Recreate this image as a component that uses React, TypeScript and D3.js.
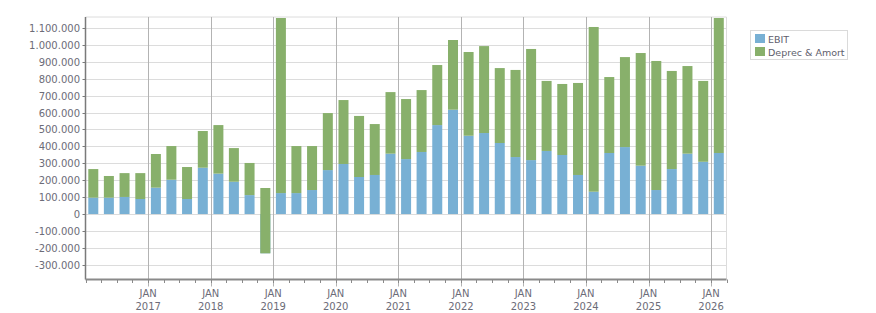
import * as d3 from "d3";

// quarterly periods, Q1 2016 .. Q1 2026
const quarters = [
  "2016-01", "2016-04", "2016-07", "2016-10",
  "2017-01", "2017-04", "2017-07", "2017-10",
  "2018-01", "2018-04", "2018-07", "2018-10",
  "2019-01", "2019-04", "2019-07", "2019-10",
  "2020-01", "2020-04", "2020-07", "2020-10",
  "2021-01", "2021-04", "2021-07", "2021-10",
  "2022-01", "2022-04", "2022-07", "2022-10",
  "2023-01", "2023-04", "2023-07", "2023-10",
  "2024-01", "2024-04", "2024-07", "2024-10",
  "2025-01", "2025-04", "2025-07", "2025-10",
  "2026-01",
];

const ebit = [
  97000, 97000, 101000, 89000,
  156000, 203000, 89000, 274000,
  239000, 191000, 112000, -232000,
  124000, 124000, 142000, 260000,
  296000, 219000, 231000, 357000,
  325000, 367000, 526000, 617000,
  463000, 479000, 420000, 337000,
  319000, 373000, 349000, 231000,
  132000, 361000, 396000, 286000,
  142000, 266000, 357000, 309000,
  361000,
];

const deprecAmort = [
  169000, 128000, 141000, 153000,
  199000, 199000, 189000, 217000,
  287000, 199000, 190000, 386000,
  1035000, 278000, 260000, 337000,
  378000, 361000, 301000, 364000,
  355000, 366000, 355000, 412000,
  495000, 514000, 443000, 515000,
  657000, 414000, 420000, 544000,
  974000, 449000, 532000, 666000,
  763000, 580000, 518000, 478000,
  798000,
];

const seriesNames = ["EBIT", "Deprec & Amort"];
const seriesColors = ["#78b0d4", "#88b06b"];
const yTicks = [-300000, -200000, -100000, 0, 100000, 200000, 300000, 400000, 500000, 600000, 700000, 800000, 900000, 1000000, 1100000];
const yearTicks = [2017, 2018, 2019, 2020, 2021, 2022, 2023, 2024, 2025, 2026];

const W = 876;
const H = 313;
const plot = { left: 85.5, right: 726.5, top: 17, bottom: 279.5 };
const textColor = "#6c6c78";
const font = "'DejaVu Sans', Verdana, sans-serif";

const locale = d3.formatLocale({ decimal: ",", thousands: ".", grouping: [3], currency: ["", ""], minus: "-" });
const fmt = locale.format(",d");

export default function App() {
  const parse = d3.timeParse("%Y-%m");
  const starts = quarters.map((q) => parse(q) as Date);

  const x = d3.scaleTime()
    .domain([new Date(2016, 0, 1), new Date(2026, 3, 1)])
    .range([plot.left, plot.right]);

  const y = d3.scaleLinear()
    .domain([-387000, 1165000])
    .range([plot.bottom, plot.top]);

  const rows = quarters.map((q, i) => ({ q, ebit: ebit[i], deprec: deprecAmort[i] }));
  const stacked = d3.stack<any>().keys(["ebit", "deprec"])(rows);

  const barW = 10;
  const quarterTicks = d3.timeMonth.every(3)!.range(new Date(2016, 0, 1), new Date(2026, 3, 2));

  return (
    <svg width={W} height={H} style={{ position: "absolute", left: 0, top: 0, fontFamily: font }}>
      <rect width={W} height={H} fill="#fff" />

      {/* horizontal grid */}
      {yTicks.map((t) => (
        <line key={t} x1={plot.left} x2={plot.right} y1={Math.round(y(t)) + 0.5} y2={Math.round(y(t)) + 0.5} stroke="#dcdcdc" />
      ))}
      <line x1={plot.left} x2={plot.right} y1={plot.top} y2={plot.top} stroke="#dcdcdc" />
      <line x1={plot.right} x2={plot.right} y1={plot.top} y2={plot.bottom} stroke="#dcdcdc" />

      {/* year lines */}
      {yearTicks.map((yr) => {
        const xx = Math.round(x(new Date(yr, 0, 1))) + 0.5;
        return <line key={yr} x1={xx} x2={xx} y1={plot.top} y2={plot.bottom + 7} stroke="#b3b3b3" />;
      })}

      {/* stacked bars */}
      {stacked.map((layer, si) => (
        <g key={layer.key} fill={seriesColors[si]}>
          {layer.map((d, i) => {
            const x0 = x(starts[i]);
            const x1 = x(d3.timeMonth.offset(starts[i], 3));
            const top = Math.min(y(d[0]), y(d[1]));
            const h = Math.abs(y(d[0]) - y(d[1]));
            return <rect key={i} x={(x0 + x1) / 2 - barW / 2} y={top} width={barW} height={h} />;
          })}
        </g>
      ))}

      {/* axes */}
      <line x1={plot.left} x2={plot.left} y1={plot.top} y2={plot.bottom} stroke="#7a7a7a" strokeWidth={1.5} />
      <line x1={plot.left} x2={plot.right} y1={plot.bottom} y2={plot.bottom} stroke="#8a8a8a" strokeWidth={2} />
      {quarterTicks.map((d, i) => {
        const xx = Math.round(x(d)) + 0.5;
        return <line key={i} x1={xx} x2={xx} y1={plot.bottom} y2={plot.bottom + 3.5} stroke="#8a8a8a" />;
      })}
      {yTicks.map((t) => (
        <g key={t} transform={`translate(0,${Math.round(y(t)) + 0.5})`}>
          <line x1={plot.left - 3} x2={plot.left} stroke="#7a7a7a" />
          <text x={80} dy="0.36em" textAnchor="end" fontSize={10} fill={textColor}>{fmt(t)}</text>
        </g>
      ))}
      {yearTicks.map((yr) => {
        const xx = x(new Date(yr, 0, 1));
        return (
          <text key={yr} x={xx} textAnchor="middle" fontSize={10} fill={textColor}>
            <tspan x={xx} y={297}>JAN</tspan>
            <tspan x={xx} y={309.5}>{yr}</tspan>
          </text>
        );
      })}

      {/* legend */}
      <g transform="translate(750.5,30.5)">
        <rect width={97} height={29} fill="#fff" stroke="#dadada" />
        {seriesNames.map((name, i) => (
          <g key={name} transform={`translate(0,${i * 13})`}>
            <rect x={4.5} y={3.5} width={10} height={9} fill={seriesColors[i]} />
            <text x={17.5} y={12} fontSize={9.5} fill="#5e5e6c">{name}</text>
          </g>
        ))}
      </g>
    </svg>
  );
}
